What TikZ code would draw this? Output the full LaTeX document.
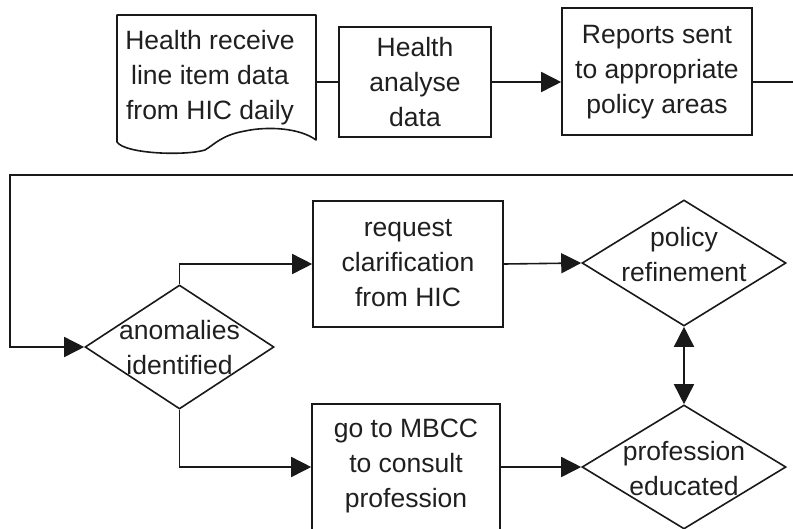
\documentclass[tikz,border=0pt]{standalone}
\usepackage{fontspec}
\setmainfont{Liberation Sans}
\usetikzlibrary{shapes.geometric,arrows.meta}
\begin{document}
\begin{tikzpicture}[x=1pt,y=-1pt,
  line width=1.6pt, draw=black!90,
  txt/.style={font=\fontsize{26.5}{35}\selectfont, align=center, text=black!88, inner sep=0pt},
  boxn/.style={draw, rectangle, minimum width=#1, inner sep=0pt},
  dia/.style={draw, diamond, inner sep=0pt, minimum width=#1},
  conn/.style={-{Triangle[length=20pt,width=20pt]}},
  biconn/.style={{Triangle[length=20pt,width=20pt]}-{Triangle[length=20pt,width=20pt]}}
]
\useasboundingbox (0,0) rectangle (793,528);
\begin{scope}
\clip (0,0) rectangle (793,528);
% document shape
\draw[line join=round] (117,142) -- (117,15) -- (316,15) -- (316,140)
  .. controls (300,128) and (268,126) .. (245,131)
  .. controls (222,135) and (215,144) .. (205,150)
  .. controls (185,156) and (125,154) .. (117,142) -- cycle;
\node[txt] (doc) at (210,78) {Health receive\\line item data\\from HIC daily};
\node[boxn=152pt, minimum height=110pt] (ana) at (415,82) {};
\node[txt] (anat) at (415,82) {Health\\analyse\\data};
\node[boxn=190pt, minimum height=127pt] (rep) at (657,71.5) {};
\node[txt] (rept) at (657,72) {Reports sent\\to appropriate\\policy areas};
\node[boxn=190pt, minimum height=126pt] (req) at (408,264) {};
\node[txt] (reqt) at (408,263) {request\\clarification\\from HIC};
\node[boxn=188pt, minimum height=126pt] (mb) at (406,467) {};
\node[txt] (mbt) at (406,466) {go to MBCC\\to consult\\profession};
\node[dia=189pt, minimum height=124pt] (ano) at (179.5,347) {};
\node[txt] (anot) at (179.5,348) {anomalies\\identified};
\node[dia=204pt, minimum height=126pt] (pol) at (684,263) {};
\node[txt] (polt) at (684,255) {policy\\refinement};
\node[dia=204pt, minimum height=124pt] (pro) at (684,467) {};
\node[txt] (prot) at (684,469) {profession\\educated};
\coordinate (dR) at (316,82);
\coordinate (e1) at (793,82);
\coordinate (e2) at (793,175);
\coordinate (e3) at (10,175);
% connectors
\draw (dR) -- (ana.west |- dR);
\draw[conn] (ana.east |- dR) -- (rep.west |- dR);
\draw (rep.east |- e1) -- (e1);
\draw[conn] (e2) -- (e3) |- (ano.west);
\draw[conn] (ano.north) |- (req.west);
\draw[conn] (ano.south) |- (mb.west);
\draw[conn] (req.east) -- (pol.west);
\draw[conn] (mb.east) -- (pro.west);
\draw[biconn] (pol.south) -- (pro.north);
\end{scope}
\end{tikzpicture}
\end{document}
